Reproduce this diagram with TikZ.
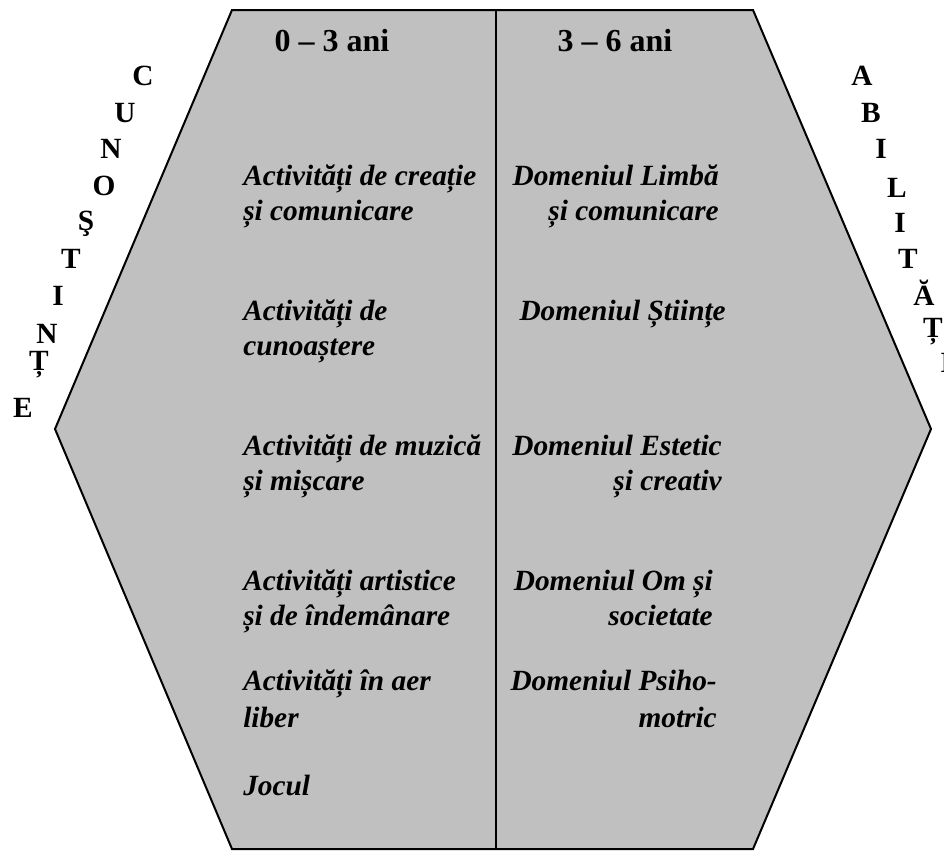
\documentclass[tikz,border=0pt]{standalone}
\usepackage{fontspec}
\setmainfont{Liberation Serif}
\definecolor{hexgray}{RGB}{192,192,192}
\tikzset{
    letter/.style={anchor=base,inner sep=0pt},
    header/.style={anchor=base,inner sep=0pt,font=\fontsize{24}{28}\selectfont\bfseries},
    leftitem/.style={anchor=base west,inner sep=0pt,font=\fontsize{22}{26.25}\selectfont\bfseries\itshape},
    rightitem/.style={anchor=base east,inner sep=0pt,font=\fontsize{22}{26.25}\selectfont\bfseries\itshape}
}
\begin{document}
\begin{tikzpicture}[x=0.75pt,y=-0.75pt,font=\fontsize{22}{26.25}\selectfont\bfseries]
        \useasboundingbox (0,0) rectangle (944,850);

        %hexagono
        \coordinate (hexnw) at (232,10);
        \coordinate (hexne) at (753,10);
        \coordinate (hexe) at (931,429);
        \coordinate (hexse) at (753,849);
        \coordinate (hexsw) at (232,849);
        \coordinate (hexw) at (55,429);
        \filldraw[fill=hexgray,draw=black,line width=1.5pt,line join=miter]
            (hexnw) -- (hexne) -- (hexe) -- (hexse) -- (hexsw) -- (hexw) -- cycle;

        %division
        \coordinate (divtop) at (496,10);
        \coordinate (divbot) at (496,849);
        \draw[black,line width=1.2pt] (divtop) -- (divbot);

        %edades
        \node[header] (age1) at (332,51){0 -- 3 ani};
        \node[header] (age2) at (615,51){3 -- 6 ani};

        %columna izquierda
        \node[leftitem] (act1) at (243,185){\begin{tabular}[t]{@{}l@{}}Activități de creație\\și comunicare\end{tabular}};
        \node[leftitem] (act2) at (243,320){\begin{tabular}[t]{@{}l@{}}Activități de\\cunoaștere\end{tabular}};
        \node[leftitem] (act3) at (243,455){\begin{tabular}[t]{@{}l@{}}Activități de muzică\\și mișcare\end{tabular}};
        \node[leftitem] (act4) at (243,590){\begin{tabular}[t]{@{}l@{}}Activități artistice\\și de îndemânare\end{tabular}};
        \node[leftitem] (act5) at (243,690){\begin{tabular}[t]{@{}l@{}}Activități în aer\\[2pt]liber\end{tabular}};
        \node[leftitem] (act6) at (243,795){Jocul};

        %columna derecha
        \node[rightitem] (dom1) at (719,185){\begin{tabular}[t]{@{}r@{}}Domeniul Limbă\\și comunicare\end{tabular}};
        \node[rightitem] (dom2) at (726,320){\begin{tabular}[t]{@{}r@{}}Domeniul Științe\end{tabular}};
        \node[rightitem] (dom3) at (722,455){\begin{tabular}[t]{@{}r@{}}Domeniul Estetic\\și creativ\end{tabular}};
        \node[rightitem] (dom4) at (713,590){\begin{tabular}[t]{@{}r@{}}Domeniul Om și\\societate\hspace{4pt}\end{tabular}};
        \node[rightitem] (dom5) at (717,690){\begin{tabular}[t]{@{}r@{}}Domeniul Psiho-\\[2pt]motric\hspace{9pt}\end{tabular}};

        %letras izquierda
        \node[letter] (cu1) at (143,85){C};
        \node[letter] (cu2) at (125,122){U};
        \node[letter] (cu3) at (111,158){N};
        \node[letter] (cu4) at (104,195){O};
        \node[letter] (cu5) at (86,230){Ş};
        \node[letter] (cu6) at (71,268){T};
        \node[letter] (cu7) at (58,305){I};
        \node[letter] (cu8) at (47,343){N};
        \node[letter] (cu9) at (39,370){Ț};
        \node[letter] (cu10) at (23,417){E};

        %letras derecha
        \node[letter] (ab1) at (862,85){A};
        \node[letter] (ab2) at (871,122){B};
        \node[letter] (ab3) at (881,158){I};
        \node[letter] (ab4) at (897,197){L};
        \node[letter] (ab5) at (900,232){I};
        \node[letter] (ab6) at (908,268){T};
        \node[letter] (ab7) at (924,305){Ă};
        \node[letter] (ab8) at (933,337){Ț};
        \node[letter] (ab9) at (946,372){I};

	\end{tikzpicture}
\end{document}
